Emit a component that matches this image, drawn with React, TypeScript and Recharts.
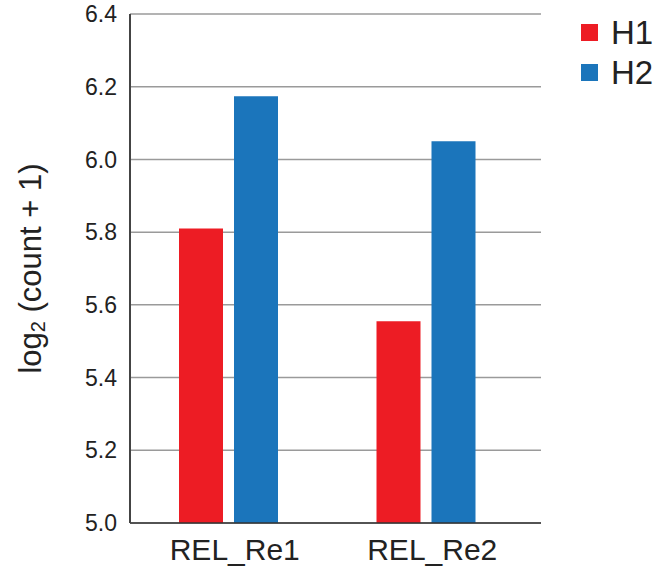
import React from 'react';
import { BarChart, Bar, XAxis, YAxis, CartesianGrid, Legend } from 'recharts';

const categories = ['REL_Re1', 'REL_Re2'];
const h1Values = [5.81, 5.555];
const h2Values = [6.174, 6.05];
const yTicks = [5.0, 5.2, 5.4, 5.6, 5.8, 6.0, 6.2, 6.4];
const seriesNames = ['H1', 'H2'];
const seriesColors = ['#ED1C24', '#1B75BB'];

const data = categories.map((c, i) => ({ name: c, H1: h1Values[i], H2: h2Values[i] }));

const FONT = '"Liberation Sans", Arial, sans-serif';

const YLabel = (props: any) => {
  const vb = props.viewBox || {};
  const cy = (vb.y ?? 0) + (vb.height ?? 0) / 2;
  return (
    <text
      x={30}
      y={cy}
      transform={`rotate(-90, 30, ${cy})`}
      textAnchor="middle"
      dominantBaseline="central"
      fontFamily={FONT}
      fontSize={31}
      fill="#222"
    >
      log<tspan fontSize={20} dy={8}>2</tspan>
      <tspan dy={-8}> (count + 1)</tspan>
    </text>
  );
};

const LegendContent = () => (
  <div style={{ fontFamily: FONT }}>
    {seriesNames.map((n, i) => (
      <div key={n} style={{ display: 'flex', alignItems: 'center', height: 40 }}>
        <div style={{ width: 17, height: 17, background: seriesColors[i], marginRight: 13 }} />
        <span style={{ fontSize: 33, color: '#222', lineHeight: '33px' }}>{n}</span>
      </div>
    ))}
  </div>
);

export default function App() {
  return (
    <div style={{ position: 'absolute', left: 0, top: 0, width: 657, height: 572, background: '#fff' }}>
      <BarChart
        width={657}
        height={572}
        data={data}
        margin={{ top: 14, right: 116, bottom: 19, left: 0 }}
        barSize={44}
        barGap={11}
      >
        <CartesianGrid vertical={false} stroke="#9a9a9a" strokeWidth={1.5} />
        <XAxis
          dataKey="name"
          height={30}
          padding={{ left: 0, right: 16 }}
          axisLine={{ stroke: '#333', strokeWidth: 1.5 }}
          tickLine={false}
          tickSize={4}
          tickMargin={12}
          tick={{ fontFamily: FONT, fontSize: 30, fill: '#222', dx: 6 }}
        />
        <YAxis
          width={130}
          domain={[5, 6.4]}
          ticks={yTicks}
          interval={0}
          allowDataOverflow
          tickFormatter={(v: number) => v.toFixed(1)}
          axisLine={{ stroke: '#444', strokeWidth: 2 }}
          tickLine={false}
          tickSize={6}
          tickMargin={7}
          tick={{ fontFamily: FONT, fontSize: 23, fill: '#222' }}
          label={<YLabel />}
        />
        <Legend
          content={<LegendContent />}
          layout="vertical"
          verticalAlign="middle"
          align="center"
          wrapperStyle={{ position: 'absolute', left: 581, top: 12, width: 80 }}
        />
        <Bar dataKey="H1" fill={seriesColors[0]} isAnimationActive={false} />
        <Bar dataKey="H2" fill={seriesColors[1]} isAnimationActive={false} />
      </BarChart>
    </div>
  );
}
